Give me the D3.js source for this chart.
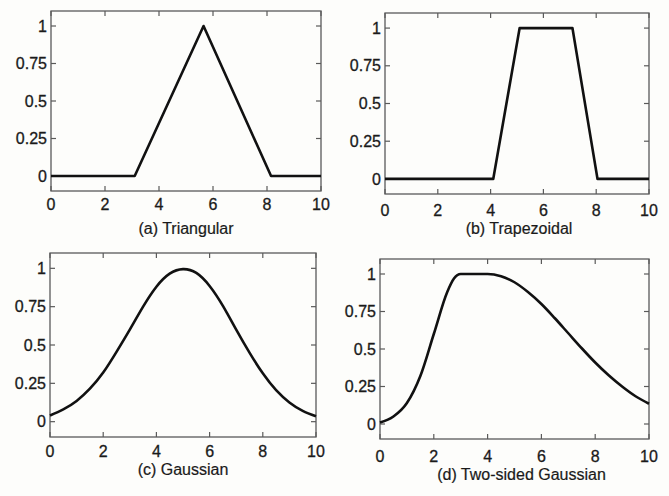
<!DOCTYPE html>
<html>
<head>
<meta charset="utf-8">
<script src="https://cdn.jsdelivr.net/npm/d3@7/dist/d3.min.js"></script>
<style>
  html, body { margin: 0; padding: 0; background: #fdfdfb; }
  svg { display: block; }
  .tick-label { font-family: "Liberation Sans", Arial, sans-serif; font-size: 16px; fill: #1a1a1a; stroke: #1a1a1a; stroke-width: 0.3px; }
  .caption { font-family: "Liberation Sans", Arial, sans-serif; font-size: 16px; fill: #1a1a1a; stroke: #1a1a1a; stroke-width: 0.2px; }
</style>
</head>
<body>
<svg id="chart" width="669" height="496"></svg>
<script>
// values
const xTicks = [0, 2, 4, 6, 8, 10]
const yTicks = [0, 0.25, 0.5, 0.75, 1]
const yTickLabels = ['0', '0.25', '0.5', '0.75', '1']
const captions = ['(a) Triangular', '(b) Trapezoidal', '(c) Gaussian', '(d) Two-sided Gaussian']

const triX = [0, 3.1, 5.65, 8.15, 10]
const triY = [0, 0, 1, 0, 0]

const trapX = [0, 4.1, 5.1, 7.1, 8.05, 10]
const trapY = [0, 0, 1, 1, 0, 0]

const gaussX = [0, 0.5, 1, 1.5, 2, 2.5, 3, 3.5, 4, 4.5, 5, 5.5, 6, 6.5, 7, 7.5, 8, 8.5, 9, 9.5, 10]
const gaussY = [0.04, 0.08, 0.135, 0.215, 0.32, 0.455, 0.6, 0.75, 0.88, 0.965, 0.995, 0.97, 0.885, 0.755, 0.6, 0.45, 0.315, 0.205, 0.125, 0.07, 0.035]

const gauss2X = [0, 0.5, 1, 1.5, 2, 2.5, 2.75, 3, 3.5, 4, 4.5, 5, 5.5, 6, 6.5, 7, 7.5, 8, 8.5, 9, 9.5, 10]
const gauss2Y = [0.01, 0.05, 0.14, 0.32, 0.6, 0.88, 0.97, 1, 1, 1, 0.985, 0.945, 0.88, 0.8, 0.705, 0.605, 0.505, 0.41, 0.325, 0.25, 0.185, 0.135]

const series = [
  { xs: triX, ys: triY, curve: d3.curveLinear },
  { xs: trapX, ys: trapY, curve: d3.curveLinear },
  { xs: gaussX, ys: gaussY, curve: d3.curveNatural },
  { xs: gauss2X, ys: gauss2Y, curve: d3.curveMonotoneX },
]

// panel boxes in page pixels (the scan is not quite square, so each is its own)
const layout = [
  { left: 51, right: 321, top: 11, bottom: 191, xLab: 19, cap: 43, capDx: 0 },
  { left: 385, right: 649, top: 13, bottom: 194, xLab: 22, cap: 40, capDx: 2 },
  { left: 50, right: 316, top: 253, bottom: 437, xLab: 20, cap: 38, capDx: 0 },
  { left: 380, right: 649, top: 259, bottom: 439, xLab: 23, cap: 41, capDx: 7 },
]

const svg = d3.select('#chart')
const TICK = 5

series.forEach((s, i) => {
  const L = layout[i]
  const x = d3.scaleLinear().domain([0, 10]).range([L.left, L.right])
  const y = d3.scaleLinear().domain([-0.1, 1.1]).range([L.bottom, L.top])
  const g = svg.append('g')

  // frame
  g.append('rect')
    .attr('x', L.left).attr('y', L.top)
    .attr('width', L.right - L.left).attr('height', L.bottom - L.top)
    .attr('fill', 'none').attr('stroke', '#5a5a5a').attr('stroke-width', 1.3)

  // inward ticks on all four sides
  const tk = g.append('g').attr('stroke', '#5a5a5a').attr('stroke-width', 1.2)
  xTicks.forEach(t => {
    tk.append('line').attr('x1', x(t)).attr('x2', x(t)).attr('y1', L.bottom).attr('y2', L.bottom - TICK)
    tk.append('line').attr('x1', x(t)).attr('x2', x(t)).attr('y1', L.top).attr('y2', L.top + TICK)
  })
  yTicks.forEach(t => {
    tk.append('line').attr('x1', L.left).attr('x2', L.left + TICK).attr('y1', y(t)).attr('y2', y(t))
    tk.append('line').attr('x1', L.right).attr('x2', L.right - TICK).attr('y1', y(t)).attr('y2', y(t))
  })

  g.selectAll('.xl').data(xTicks).enter().append('text')
    .attr('class', 'tick-label')
    .attr('x', d => x(d))
    .attr('y', L.bottom + L.xLab)
    .attr('text-anchor', 'middle')
    .text(d => d)

  g.selectAll('.yl').data(yTicks).enter().append('text')
    .attr('class', 'tick-label')
    .attr('x', L.left - 4)
    .attr('y', d => y(d))
    .attr('dy', '0.35em')
    .attr('text-anchor', 'end')
    .text((d, k) => yTickLabels[k])

  g.append('text')
    .attr('class', 'caption')
    .attr('x', (L.left + L.right) / 2 + L.capDx)
    .attr('y', L.bottom + L.cap)
    .attr('text-anchor', 'middle')
    .text(captions[i])

  const pts = s.xs.map((v, k) => [v, s.ys[k]])
  g.append('path')
    .datum(pts)
    .attr('fill', 'none')
    .attr('stroke', '#111')
    .attr('stroke-width', 2.6)
    .attr('stroke-linejoin', 'round')
    .attr('d', d3.line().x(d => x(d[0])).y(d => y(d[1])).curve(s.curve))
})
</script>
</body>
</html>
